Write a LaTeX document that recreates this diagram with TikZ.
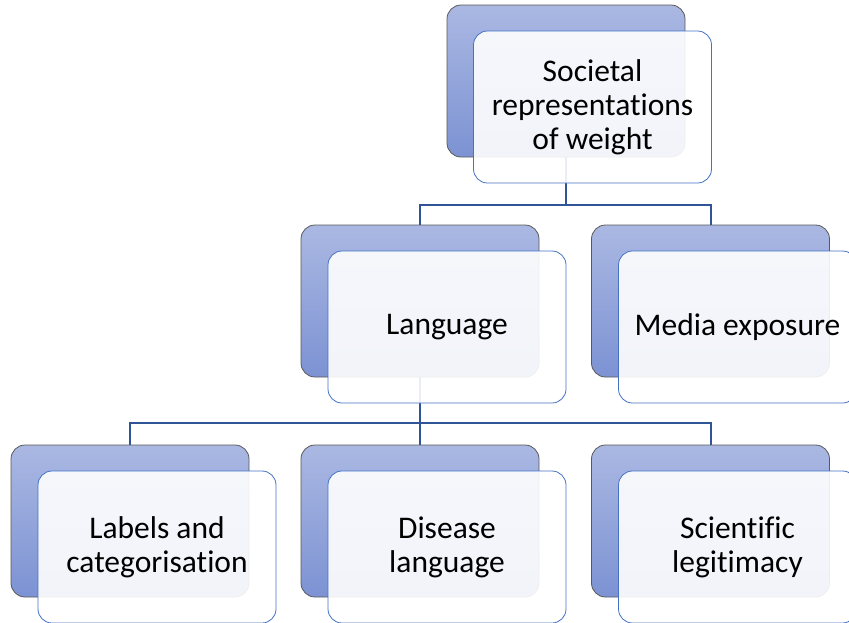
\documentclass[tikz,border=0pt]{standalone}
\usepackage{fontspec}
\setmainfont{Carlito}[Ligatures=NoCommon]
\definecolor{boxtop}{RGB}{170,184,226}
\definecolor{boxbot}{RGB}{124,146,211}
\definecolor{edgeblue}{RGB}{68,114,196}
\definecolor{linkblue}{RGB}{47,85,151}
\begin{document}
\begin{tikzpicture}[x=1pt, y=-1pt,
    back/.style={draw=black!65, line width=0.8pt, rounded corners=14pt, top color=boxtop, bottom color=boxbot,
                 minimum width=238pt, minimum height=152pt, inner sep=0pt},
    front/.style={draw=edgeblue, line width=0.8pt, rounded corners=14pt, fill=white, fill opacity=0.9, text opacity=1,
                  minimum width=238pt, minimum height=152pt, inner sep=2pt, align=center,
                  font=\fontsize{31.5}{34}\selectfont},
    link/.style={draw=linkblue, line width=2pt}]
      \useasboundingbox (0, 0) rectangle (849, 622);
      % back boxes
      \node[back] (soc) at (566, 81) {};
      \node[back] (lang) at (420, 301) {};
      \node[back] (media) at (710.5, 301) {};
      \node[back] (labels) at (130, 521) {};
      \node[back] (disease) at (420, 521) {};
      \node[back] (sci) at (710.5, 521) {};
      % connectors
      \coordinate (j1) at (566, 205);
      \coordinate (j2) at (420, 423);
      \draw[link] (soc.south) -- (j1) -| (lang.north);
      \draw[link] (j1) -| (media.north);
      \draw[link] (lang.south) -- (j2) -| (labels.north);
      \draw[link] (j2) -- (disease.north);
      \draw[link] (j2) -| (sci.north);
      % front boxes
      \node[front] (soc-t) at (592.5, 107) {Societal\\representations\\of weight};
      \node[front] (lang-t) at (447, 327) {Language};
      \node[front] (media-t) at (737.5, 327) {Media exposure};
      \node[front] (labels-t) at (157, 547) {Labels and\\categorisation};
      \node[front] (disease-t) at (447, 547) {Disease\\language};
      \node[front] (sci-t) at (737.5, 547) {Scientific\\legitimacy};
\end{tikzpicture}
\end{document}
